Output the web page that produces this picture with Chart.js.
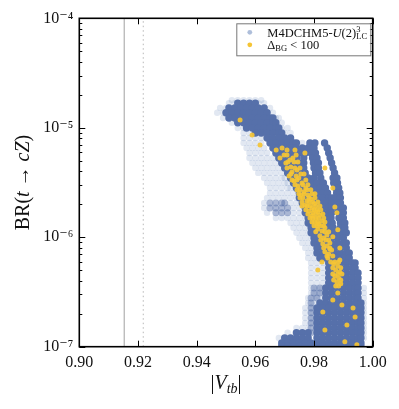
<!DOCTYPE html>
<html><head><meta charset="utf-8">
<script src="https://cdn.jsdelivr.net/npm/chart.js@4"></script>
<style>html,body{margin:0;padding:0;background:#fff;}canvas{display:block;}</style>
</head><body>
<canvas id="c" width="399" height="409" style="width:399px;height:409px"></canvas>
<script>
const xTicks = [0.90, 0.92, 0.94, 0.96, 0.98, 1.00];
const xTickLabels = ['0.90', '0.92', '0.94', '0.96', '0.98', '1.00'];
const yTicks = [1e-7, 1e-6, 1e-5, 1e-4];
const yTickLabels = ['10⁻⁷', '10⁻⁶', '10⁻⁵', '10⁻⁴'];
const yMinorTicks = [2e-7,3e-7,4e-7,5e-7,6e-7,7e-7,8e-7,9e-7,2e-6,3e-6,4e-6,5e-6,6e-6,7e-6,8e-6,9e-6,2e-5,3e-5,4e-5,5e-5,6e-5,7e-5,8e-5,9e-5];
const refLines = [0.9153, 0.9218];
const seriesNames = ['M4DCHM5-U(2)3LC', 'ΔBG < 100'];

// scan model points: [BR, [|Vtb| values]] -- dense core of the cloud
const denseRows = [
 [1.68e-5,[0.954,0.956,0.958,0.960]],
 [1.52e-5,[0.951,0.953,0.955,0.957,0.959,0.961,0.963]],
 [1.37e-5,[0.950,0.952,0.954,0.956,0.958,0.960,0.962,0.964]],
 [1.23e-5,[0.951,0.953,0.955,0.957,0.959,0.961,0.963,0.965,0.966]],
 [1.11e-5,[0.954,0.956,0.958,0.960,0.962,0.964,0.966,0.967]],
 [9.96e-6,[0.957,0.959,0.961,0.963,0.965,0.967,0.968]],
 [8.97e-6,[0.960,0.962,0.964,0.966,0.968,0.969]],
 [8.07e-6,[0.964,0.966,0.968,0.970,0.972]],
 [7.27e-6,[0.965,0.967,0.969,0.971,0.973,0.974,0.9786,0.9803,0.9836]],
 [6.54e-6,[0.966,0.968,0.970,0.972,0.974,0.976,0.978,0.980,0.9845]],
 [5.89e-6,[0.967,0.969,0.971,0.973,0.975,0.977,0.979,0.9805,0.985]],
 [5.30e-6,[0.968,0.970,0.972,0.974,0.9765,0.9795,0.981,0.9855]],
 [4.77e-6,[0.969,0.971,0.973,0.975,0.9765,0.9798,0.9815,0.986]],
 [4.30e-6,[0.970,0.972,0.974,0.9765,0.980,0.9815,0.9865]],
 [3.87e-6,[0.971,0.973,0.975,0.977,0.9805,0.982,0.987]],
 [3.48e-6,[0.972,0.974,0.976,0.978,0.980,0.9823,0.9865,0.9878]],
 [3.13e-6,[0.973,0.975,0.977,0.979,0.981,0.9832,0.9867,0.988]],
 [2.82e-6,[0.974,0.976,0.978,0.980,0.982,0.9839,0.9874,0.9884]],
 [2.54e-6,[0.975,0.977,0.979,0.981,0.983,0.9846,0.9877,0.9888]],
 [2.29e-6,[0.975,0.977,0.979,0.981,0.983,0.985,0.986,0.987,0.989]],
 [2.06e-6,[0.976,0.978,0.980,0.982,0.984,0.986,0.988,0.989]],
 [1.85e-6,[0.977,0.979,0.981,0.983,0.985,0.986,0.988,0.990]],
 [1.67e-6,[0.977,0.979,0.981,0.983,0.985,0.986,0.9885,0.990]],
 [1.50e-6,[0.978,0.980,0.982,0.984,0.9858,0.9885,0.990]],
 [1.35e-6,[0.978,0.980,0.982,0.984,0.9862,0.989,0.9905]],
 [1.22e-6,[0.979,0.981,0.983,0.985,0.9865,0.989,0.9905]],
 [1.10e-6,[0.979,0.981,0.983,0.985,0.987,0.989,0.991]],
 [9.86e-7,[0.980,0.982,0.984,0.986,0.988,0.990]],
 [8.88e-7,[0.980,0.982,0.984,0.986,0.988,0.990,0.991]],
 [7.99e-7,[0.981,0.983,0.985,0.987,0.989,0.991]],
 [7.19e-7,[0.981,0.983,0.985,0.987,0.989,0.991,0.992]],
 [6.47e-7,[0.982,0.984,0.986,0.988,0.990,0.992]],
 [5.83e-7,[0.985,0.987,0.989,0.991,0.993,0.994]],
 [5.25e-7,[0.985,0.987,0.989,0.991,0.993,0.994]],
 [4.72e-7,[0.985,0.987,0.989,0.991,0.993,0.995]],
 [4.25e-7,[0.985,0.987,0.989,0.991,0.993,0.995]],
 [3.83e-7,[0.985,0.987,0.989,0.991,0.993,0.995]],
 [3.44e-7,[0.984,0.986,0.988,0.990,0.992,0.994,0.995]],
 [3.10e-7,[0.984,0.986,0.988,0.990,0.992,0.994,0.995]],
 [2.79e-7,[0.984,0.986,0.988,0.990,0.992,0.994,0.995]],
 [2.51e-7,[0.982,0.984,0.986,0.988,0.990,0.992,0.994,0.996]],
 [2.26e-7,[0.981,0.983,0.985,0.987,0.989,0.991,0.993,0.995,0.996]],
 [2.04e-7,[0.981,0.983,0.985,0.987,0.989,0.991,0.993,0.995,0.996]],
 [1.83e-7,[0.981,0.983,0.985,0.987,0.989,0.991,0.993,0.995,0.996]],
 [1.65e-7,[0.981,0.983,0.985,0.987,0.989,0.991,0.993,0.995,0.996]],
 [1.48e-7,[0.981,0.983,0.985,0.987,0.989,0.991,0.993,0.995,0.996]],
 [1.34e-7,[0.974,0.976,0.978,0.981,0.983,0.985,0.987,0.989,0.991,0.993,0.995,0.996]],
 [1.20e-7,[0.970,0.972,0.974,0.976,0.978,0.981,0.983,0.985,0.987,0.989,0.991,0.993,0.995,0.996]],
 [1.08e-7,[0.969,0.971,0.973,0.975,0.977,0.979,0.981,0.983,0.985,0.987,0.989,0.991,0.993,0.995,0.996]],
 [1.01e-7,[0.969,0.971,0.973,0.975,0.977,0.979,0.981,0.983,0.985,0.987,0.989,0.991,0.993,0.995,0.996]]
];

// scan model points: [BR, [|Vtb| values]] -- medium-density patches
const mediumRows = [
 [2.06e-6,[0.965,0.967,0.969,0.970]],
 [1.85e-6,[0.965,0.967,0.969,0.971]],
 [1.67e-6,[0.967,0.969,0.971]],
 [3.44e-7,[0.980,0.982]],
 [3.10e-7,[0.980,0.982]],
 [2.79e-7,[0.979,0.981]],
 [2.51e-7,[0.979]],
 [2.26e-7,[0.979]],
 [2.04e-7,[0.979]],
 [1.83e-7,[0.979]],
 [1.65e-7,[0.979]],
 [1.48e-7,[0.979]],
 [1.34e-7,[0.979]]
];

// scan model points: [BR, [|Vtb| values]] -- sparse halo of the cloud
const sparseRows = [
 [1.79e-5,[0.952,0.954,0.956,0.958,0.960,0.962]],
 [1.68e-5,[0.951,0.953,0.961,0.963]],
 [1.52e-5,[0.948,0.950,0.965]],
 [1.37e-5,[0.947,0.949,0.966]],
 [1.23e-5,[0.949,0.967,0.968]],
 [1.11e-5,[0.952,0.969]],
 [9.96e-6,[0.954,0.956,0.969,0.971]],
 [8.97e-6,[0.956,0.958,0.970,0.972]],
 [8.07e-6,[0.956,0.958,0.960,0.962]],
 [7.27e-6,[0.956,0.958,0.960,0.962,0.976]],
 [6.54e-6,[0.957,0.959,0.961,0.963]],
 [5.89e-6,[0.958,0.960,0.962,0.964]],
 [5.30e-6,[0.958,0.960,0.962,0.964,0.966]],
 [4.77e-6,[0.959,0.961,0.963,0.965,0.967]],
 [4.30e-6,[0.960,0.962,0.964,0.966,0.968]],
 [3.87e-6,[0.961,0.963,0.965,0.967,0.969]],
 [3.48e-6,[0.963,0.965,0.967,0.969,0.970]],
 [3.13e-6,[0.964,0.966,0.968,0.970,0.971]],
 [2.82e-6,[0.965,0.967,0.969,0.971,0.972]],
 [2.54e-6,[0.965,0.967,0.969,0.971,0.973]],
 [2.29e-6,[0.964,0.966,0.968,0.970,0.972,0.974]],
 [2.06e-6,[0.963,0.972,0.974]],
 [1.85e-6,[0.963,0.973,0.975]],
 [1.67e-6,[0.964,0.973,0.975]],
 [1.50e-6,[0.967,0.969,0.971,0.973,0.975,0.977]],
 [1.35e-6,[0.972,0.974,0.976]],
 [1.22e-6,[0.973,0.975,0.977]],
 [1.10e-6,[0.974,0.976,0.978]],
 [9.86e-7,[0.975,0.977,0.979]],
 [8.88e-7,[0.976,0.978]],
 [7.99e-7,[0.977,0.979]],
 [7.19e-7,[0.978,0.980]],
 [6.47e-7,[0.978,0.980]],
 [5.83e-7,[0.979,0.981,0.983]],
 [5.25e-7,[0.979,0.981,0.983]],
 [4.72e-7,[0.979,0.981,0.983]],
 [4.25e-7,[0.979,0.981,0.983]],
 [3.83e-7,[0.979,0.981,0.983]],
 [3.44e-7,[0.979,0.981,0.983,0.997]],
 [3.10e-7,[0.979,0.981,0.983,0.997]],
 [2.79e-7,[0.978,0.980,0.982,0.997]],
 [2.51e-7,[0.978,0.980,0.997]],
 [2.26e-7,[0.977,0.979,0.997]],
 [2.04e-7,[0.977,0.979,0.997]],
 [1.83e-7,[0.977,0.979,0.997]],
 [1.65e-7,[0.977,0.979,0.997]],
 [1.48e-7,[0.974,0.976,0.978,0.997]],
 [1.34e-7,[0.971,0.997]],
 [1.20e-7,[0.968,0.997]]
];

// points passing Delta_BG < 100
const yellowVtb = [0.9548,0.9589,0.9616,0.9671,0.9691,0.9708,0.9735,0.9684,0.9708,0.9718,0.9704,0.9728,0.9721,0.9725,0.9739,0.9732,0.9748,0.9745,0.9759,0.9752,0.9766,0.9779,0.9762,0.9776,0.9789,0.9769,0.9786,0.9800,0.9783,0.9796,0.9810,0.9793,0.9806,0.9820,0.9803,0.9816,0.9827,0.9813,0.9827,0.9837,0.9820,0.9833,0.9844,0.9830,0.9844,0.9854,0.9837,0.9850,0.9860,0.9847,0.9857,0.9867,0.9881,0.9874,0.9888,0.9871,0.9884,0.9878,0.9891,0.9874,0.9769,0.9837,0.9864,0.9871,0.9878,0.9864,0.9881,0.9888,0.9888,0.9827,0.9813,0.9881,0.9864,0.9895,0.9830,0.9933,0.9940,0.9912,0.9837,0.9905,0.9946,0.9755,0.9772,0.9793,0.9813,0.9800,0.9823,0.9840,0.9854,0.9742,0.9715,
 0.9698,0.9739,0.9711,0.9732,0.9745,0.9708,0.9735,0.9752,0.9721,0.9755,0.9766,0.9725,0.9742,0.9772,0.9735,0.9762,0.9779,0.9742,0.9776,0.9789,0.9748,0.9766,0.9793,0.9803,0.9752,0.9783,0.9803,0.9759,0.9783,0.9796,0.9813,0.9759,0.9776,0.9806,0.9820,0.9772,0.9800,0.9823,0.9779,0.9806,0.9830,0.9786,0.9796,0.9816,0.9833,0.9793,0.9813,0.9837,0.9810,0.9833,0.9806,0.9837,0.9850,0.9823,0.9850,0.9833,0.9854,0.9844,0.9864,0.9871,0.9884,0.9864,0.9891,0.9864,0.9881,0.9895,0.9867,0.9891,0.9884];
const yellowBR = [1.18e-5,8.59e-6,6.97e-6,6.27e-6,6.54e-6,6.27e-6,6.27e-6,5.30e-6,5.65e-6,5.08e-6,4.77e-6,5.30e-6,4.38e-6,3.95e-6,3.63e-6,3.27e-6,3.48e-6,2.94e-6,3.13e-6,2.71e-6,2.60e-6,2.43e-6,2.29e-6,2.15e-6,2.24e-6,1.97e-6,1.93e-6,2.02e-6,1.74e-6,1.67e-6,1.78e-6,1.57e-6,1.50e-6,1.60e-6,1.38e-6,1.32e-6,1.41e-6,1.19e-6,1.14e-6,1.22e-6,1.03e-6,9.86e-7,1.05e-6,8.69e-7,8.33e-7,8.88e-7,7.35e-7,7.04e-7,7.66e-7,6.47e-7,5.95e-7,5.71e-7,5.47e-7,5.03e-7,4.82e-7,4.43e-7,4.25e-7,3.91e-7,3.75e-7,3.59e-7,5.89e-6,4.30e-6,2.82e-6,1.89e-6,1.67e-6,1.01e-6,1.17e-6,7.99e-7,6.21e-7,5.95e-7,5.03e-7,3.10e-7,2.67e-7,2.41e-7,2.08e-7,2.26e-7,1.87e-7,1.58e-7,1.42e-7,1.11e-7,1.04e-7,2.43e-6,2.82e-6,1.85e-6,1.70e-6,1.27e-6,1.27e-6,9.45e-7,7.82e-7,4.12e-6,3.63e-6,
 5.65e-6,5.65e-6,4.87e-6,4.87e-6,4.87e-6,4.30e-6,4.30e-6,4.30e-6,3.79e-6,3.79e-6,3.79e-6,3.34e-6,3.34e-6,3.34e-6,3.01e-6,3.01e-6,3.01e-6,2.71e-6,2.71e-6,2.71e-6,2.49e-6,2.49e-6,2.49e-6,2.49e-6,2.29e-6,2.29e-6,2.29e-6,2.10e-6,2.10e-6,2.10e-6,2.10e-6,1.93e-6,1.93e-6,1.93e-6,1.93e-6,1.78e-6,1.78e-6,1.78e-6,1.63e-6,1.63e-6,1.63e-6,1.50e-6,1.50e-6,1.50e-6,1.50e-6,1.38e-6,1.38e-6,1.38e-6,1.27e-6,1.27e-6,1.12e-6,1.12e-6,1.12e-6,9.45e-7,9.45e-7,7.99e-7,7.99e-7,6.75e-7,6.75e-7,5.95e-7,5.95e-7,5.25e-7,5.25e-7,4.62e-7,4.62e-7,4.62e-7,4.07e-7,4.07e-7,3.59e-7];

const SERIF = '"Liberation Serif", "DejaVu Serif", serif';
const rowsToPts = rows => rows.flatMap(([br, xs]) => xs.map(v => ({x: v, y: br})));

const datasets = [
  {label: seriesNames[1], data: yellowVtb.map((v, i) => ({x: v, y: yellowBR[i]})), backgroundColor: 'rgba(245,196,52,0.92)', borderWidth: 0, pointRadius: 2.5, order: 0},
  {label: seriesNames[0], data: rowsToPts(denseRows), backgroundColor: 'rgb(86,112,170)', borderWidth: 0, pointRadius: 3.7, order: 1},
  {label: seriesNames[0] + ' medium', data: rowsToPts(mediumRows), backgroundColor: 'rgba(86,112,170,0.5)', borderWidth: 0, pointRadius: 3.5, order: 2},
  {label: seriesNames[0] + ' halo', data: rowsToPts(sparseRows), backgroundColor: 'rgba(76,110,174,0.16)', borderWidth: 0, pointRadius: 3.2, order: 3},
  {label: 'ref1', type: 'line', data: [{x: refLines[0], y: 1e-7}, {x: refLines[0], y: 1e-4}], borderColor: '#a0a0a0', borderWidth: 1, pointRadius: 0, showLine: true, order: 4},
  {label: 'ref2', type: 'line', data: [{x: refLines[1], y: 1e-7}, {x: refLines[1], y: 1e-4}], borderColor: '#b8b8b8', borderWidth: 1, borderDash: [1.5, 3], pointRadius: 0, showLine: true, order: 4}
];

function drawRich(ctx, x, y, segs) {
  for (const s of segs) {
    ctx.font = (s.i ? 'italic ' : '') + s.s + 'px ' + SERIF;
    ctx.fillText(s.t, x, y + (s.dy || 0));
    const w = ctx.measureText(s.t).width;
    if (!s.noAdv) x += w;
  }
  return x;
}
function richWidth(ctx, segs) {
  let w = 0;
  for (const s of segs) { ctx.font = (s.i ? 'italic ' : '') + s.s + 'px ' + SERIF; if (!s.noAdv) w += ctx.measureText(s.t).width; }
  return w;
}

const decor = {
  id: 'decor',
  afterDatasetsDraw(chart) {
    const {ctx, chartArea: a, scales: {x, y}} = chart;
    ctx.save();
    ctx.strokeStyle = '#000';
    ctx.lineWidth = 1;
    const ln = (x1, y1, x2, y2) => { ctx.beginPath(); ctx.moveTo(x1, y1); ctx.lineTo(x2, y2); ctx.stroke(); };
    xTicks.forEach(v => { const p = Math.round(x.getPixelForValue(v)) + 0.5; ln(p, a.bottom, p, a.bottom - 6); ln(p, a.top, p, a.top + 6); });
    yTicks.forEach(v => { const p = Math.round(y.getPixelForValue(v)) + 0.5; ln(a.left, p, a.left + 6, p); ln(a.right, p, a.right - 6, p); });
    yMinorTicks.forEach(v => { const p = Math.round(y.getPixelForValue(v)) + 0.5; ln(a.left, p, a.left + 3, p); ln(a.right, p, a.right - 3, p); });
    ctx.lineWidth = 1.6;
    ctx.strokeRect(a.left, a.top, a.right - a.left, a.bottom - a.top);

    // legend
    const lx = a.left + 157, ly = a.top + 5, lw = 134, lh = 32;
    ctx.fillStyle = 'rgba(255,255,255,0.85)';
    ctx.fillRect(lx, ly, lw, lh);
    ctx.lineWidth = 1; ctx.strokeStyle = '#777';
    ctx.strokeRect(lx + 0.5, ly + 0.5, lw, lh);
    ctx.fillStyle = 'rgba(76,110,174,0.45)';
    ctx.beginPath(); ctx.arc(lx + 13.5, ly + 9, 2.4, 0, 2 * Math.PI); ctx.fill();
    ctx.fillStyle = 'rgba(245,196,52,1)';
    ctx.beginPath(); ctx.arc(lx + 13.5, ly + 21.5, 2.4, 0, 2 * Math.PI); ctx.fill();
    ctx.fillStyle = '#111'; ctx.textBaseline = 'alphabetic'; ctx.textAlign = 'left';
    drawRich(ctx, lx + 31, ly + 13.5, [
      {t: 'M4DCHM5-', s: 12.5}, {t: 'U', s: 12.5, i: true}, {t: '(2)', s: 12.5},
      {t: '3', s: 8.5, dy: -5, noAdv: true}, {t: 'LC', s: 8.5, dy: 2.5}
    ]);
    drawRich(ctx, lx + 31, ly + 25.5, [
      {t: 'Δ', s: 12.5}, {t: 'BG', s: 8.5, dy: 2.5}, {t: ' < 100', s: 12.5}
    ]);

    // x title
    const xs = [{t: '|', s: 20}, {t: 'V', s: 20, i: true}, {t: 'tb', s: 14, i: true, dy: 4}, {t: '|', s: 20}];
    const xw = richWidth(ctx, xs);
    drawRich(ctx, (a.left + a.right) / 2 - xw / 2, 389, xs);

    // y title
    const ys = [{t: 'BR(', s: 20}, {t: 't', s: 20, i: true}, {t: ' → ', s: 20}, {t: 'cZ', s: 20, i: true}, {t: ')', s: 20}];
    const yw = richWidth(ctx, ys);
    ctx.translate(29, (a.top + a.bottom) / 2);
    ctx.rotate(-Math.PI / 2);
    drawRich(ctx, -yw / 2, 0, ys);
    ctx.restore();
  }
};

new Chart(document.getElementById('c').getContext('2d'), {
  type: 'scatter',
  data: {datasets},
  options: {
    responsive: false, animation: false, devicePixelRatio: 1,
    layout: {padding: {left: 0, top: 18.3, right: 26.3, bottom: 0}},
    plugins: {legend: {display: false}, tooltip: {enabled: false}},
    scales: {
      x: {
        type: 'linear', min: 0.90, max: 1.00,
        grid: {display: false, drawTicks: false}, border: {display: false},
        afterBuildTicks: s => { s.ticks = xTicks.map(v => ({value: v})); },
        afterFit: s => { s.height = 62.3; },
        ticks: {padding: 6, color: '#111', font: {family: SERIF, size: 16}, maxRotation: 0, autoSkip: false, callback: (v, i) => xTickLabels[i]}
      },
      y: {
        type: 'logarithmic', min: 1e-7, max: 1e-4,
        grid: {display: false, drawTicks: false}, border: {display: false},
        afterBuildTicks: s => { s.ticks = yTicks.map(v => ({value: v})); },
        afterFit: s => { s.width = 79.3; },
        ticks: {padding: 6, color: '#111', font: {family: SERIF, size: 16}, autoSkip: false, callback: (v, i) => yTickLabels[i]}
      }
    }
  },
  plugins: [decor]
});
</script>
</body></html>
